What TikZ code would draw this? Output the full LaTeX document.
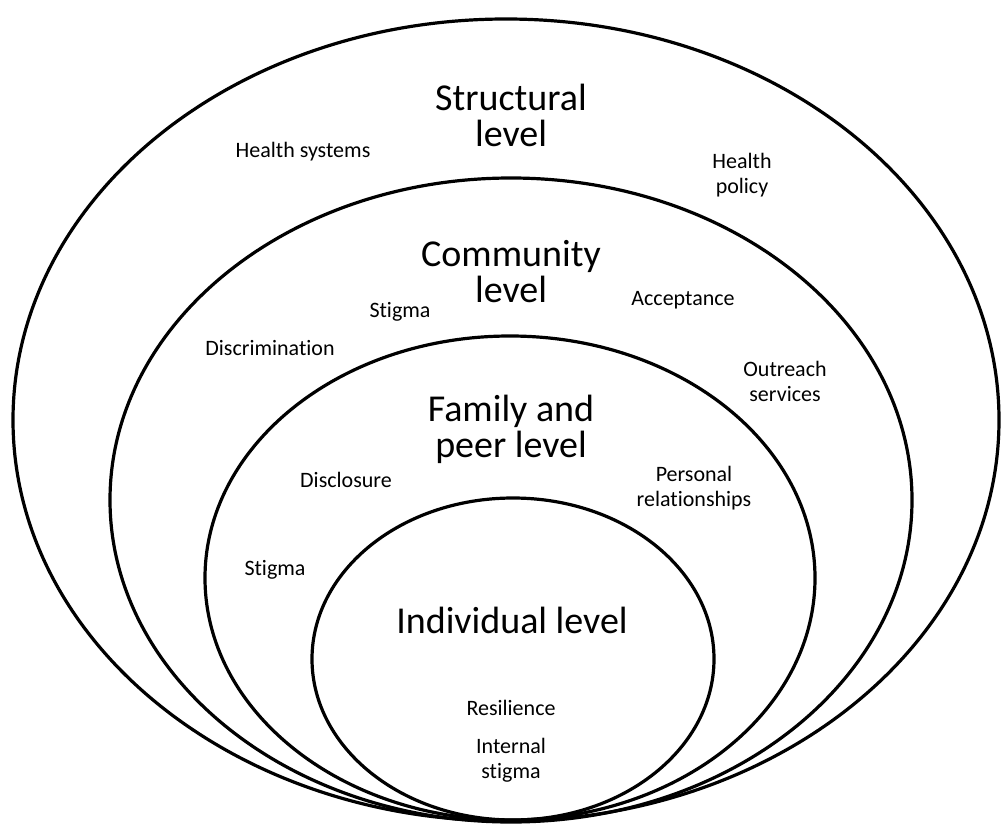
\documentclass[tikz,border=0pt]{standalone}
\usepackage{fontspec}
\setmainfont[Ligatures=NoCommon]{Carlito}
\usetikzlibrary{shapes.geometric}

\begin{document}
\begin{tikzpicture}[x=1pt,y=-1pt,
  ring/.style={draw,ellipse,line width=3.2pt,inner sep=0pt},
  lvl/.style={font=\fontsize{38}{36}\selectfont,align=center},
  item/.style={font=\fontsize{22}{25}\selectfont,align=center}]
\useasboundingbox (0,0) rectangle (1001,824);
\node[ring,minimum width=986,minimum height=802] (structural) at (506,420) {};
\node[ring,minimum width=802,minimum height=644] (community) at (511,500) {};
\node[ring,minimum width=610,minimum height=484] (family) at (510,578) {};
\node[ring,minimum width=402,minimum height=322] (individual) at (513,659) {};
\node[lvl] (structlbl) at (511,115) {Structural\\level};
\node[item] (healthsys) at (303,152) {Health systems};
\node[item] (healthpol) at (742,175) {Health\\policy};
\node[lvl] (commlbl) at (511,272) {Community\\level};
\node[item] (stigmacomm) at (400,312) {Stigma};
\node[item] (acceptance) at (683,300) {Acceptance};
\node[item] (discrim) at (270,348) {Discrimination};
\node[item] (outreach) at (785,381) {Outreach\\services};
\node[lvl] (familylbl) at (511,429) {Family and\\peer level};
\node[item] (disclosure) at (346,480) {Disclosure};
\node[item] (personal) at (694,488) {Personal\\relationships};
\node[item] (stigmafam) at (275,570) {Stigma};
\node[lvl] (indivlbl) at (512,620) {Individual level};
\node[item] (resilience) at (511,708) {Resilience};
\node[item] (internal) at (511,760) {Internal\\stigma};
\end{tikzpicture}
\end{document}
